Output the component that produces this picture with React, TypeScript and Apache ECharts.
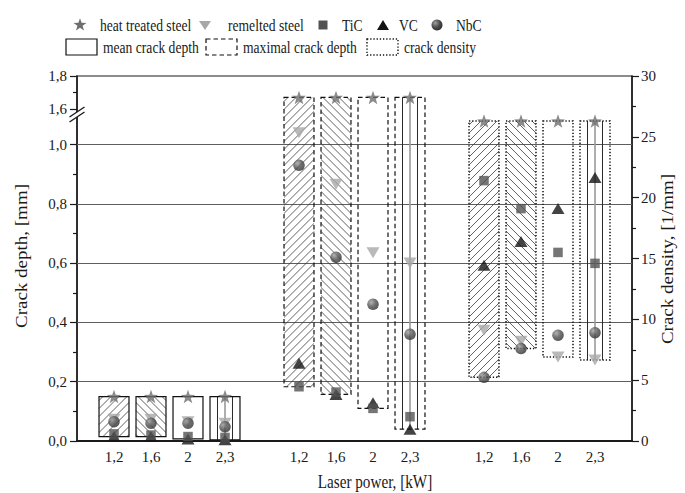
import React, { useEffect, useRef } from "react";
import * as echarts from "echarts";

// Laser power categories, repeated in each of the three panels
const POWER_LABELS = ["1,2", "1,6", "2", "2,3"];

// Mean crack depth [mm]
const MEAN_HEAT_TREATED = [0.15, 0.15, 0.15, 0.15];
const MEAN_REMELTED = [0.073, 0.073, 0.065, 0.06];
const MEAN_TIC = [0.024, 0.02, 0.015, 0.012];
const MEAN_VC = [0.015, 0.015, 0.007, 0.004];
const MEAN_NBC = [0.065, 0.06, 0.06, 0.048];

// Maximal crack depth [mm]
const MAX_HEAT_TREATED = [1.67, 1.67, 1.67, 1.67];
const MAX_REMELTED = [1.04, 0.866, 0.635, 0.6];
const MAX_TIC = [0.183, 0.165, 0.11, 0.082];
const MAX_VC = [0.262, 0.157, 0.129, 0.04];
const MAX_NBC = [0.93, 0.62, 0.461, 0.36];

// Crack density [1/mm]
const DENS_HEAT_TREATED = [26.3, 26.3, 26.3, 26.3];
const DENS_REMELTED = [9.1, 8.2, 6.9, 6.65];
const DENS_TIC = [21.4, 19.1, 15.5, 14.6];
const DENS_VC = [14.45, 16.4, 19.1, 21.65];
const DENS_NBC = [5.23, 7.6, 8.7, 8.9];

// Axis ticks
const DEPTH_TICKS = [0, 0.2, 0.4, 0.6, 0.8, 1.0, 1.6, 1.8];
const DEPTH_MINOR_TICKS = [0.1, 0.3, 0.5, 0.7, 0.9, 1.7];
const DEPTH_GRID = [0.2, 0.4, 0.6, 0.8, 1.0];
const DENSITY_MAX = 30;
const DENSITY_STEP = 5;

// Broken depth axis: 0..~1.1 linear, then 1.6..1.8 compressed
const BREAK_FROM = 1.6;
const T_BREAK = 1.12;
const UPPER_SCALE = 0.556;
const toAxis = (v: number) => (v >= BREAK_FROM ? T_BREAK + (v - BREAK_FROM) * UPPER_SCALE : v);
const fromAxis = (t: number) => (t >= T_BREAK - 1e-9 ? BREAK_FROM + (t - T_BREAK) / UPPER_SCALE : t);
const T_MAX = toAxis(1.8);

const FONT = '"Liberation Serif", "Times New Roman", serif';
const INK = "#1a1a1a";
const GROUP_SLOT = 5;
const BAR_WIDTH = 0.81;

const STAR_PATH =
  "path://M50 0 L61.76 33.82 L97.55 34.55 L69.02 56.18 L79.39 90.45 L50 70 L20.61 90.45 L30.98 56.18 L2.45 34.55 L38.24 33.82 Z";

const ballFill = () =>
  new echarts.graphic.RadialGradient(0.35, 0.32, 0.75, [
    { offset: 0, color: "#a0a0a0" },
    { offset: 0.5, color: "#505050" },
    { offset: 1, color: "#2a2a2a" },
  ]);

const MATERIALS = [
  { name: "heat treated steel", mean: MEAN_HEAT_TREATED, max: MAX_HEAT_TREATED, dens: DENS_HEAT_TREATED, symbol: STAR_PATH, size: [14, 13.5], color: "#6e6e6e", rotate: 0 },
  { name: "remelted steel", mean: MEAN_REMELTED, max: MAX_REMELTED, dens: DENS_REMELTED, symbol: "triangle", size: [13, 11], color: "#a8a8a8", rotate: 180 },
  { name: "TiC", mean: MEAN_TIC, max: MAX_TIC, dens: DENS_TIC, symbol: "rect", size: [9.5, 9.5], color: "#525252", rotate: 0 },
  { name: "VC", mean: MEAN_VC, max: MAX_VC, dens: DENS_VC, symbol: "triangle", size: [13, 11], color: "#141414", rotate: 0 },
  { name: "NbC", mean: MEAN_NBC, max: MAX_NBC, dens: DENS_NBC, symbol: "circle", size: [11.5, 11.5], color: "ball", rotate: 0 },
];
const DRAW_ORDER = [0, 1, 3, 2, 4];

const xPos = (group: number, i: number) => group * GROUP_SLOT + i;

// Hatched bar spanning the range of the materials at one laser power
const makeBarRenderer = (dash: number[] | null) => (params: any, api: any) => {
  const x = api.value(0);
  const lo = api.value(1);
  const hi = api.value(2);
  const pat = api.value(3);
  const top = api.coord([x, hi]);
  const bot = api.coord([x, lo]);
  const w = api.size([BAR_WIDTH, 0])[0];
  const x0 = top[0] - w / 2;
  const x1 = top[0] + w / 2;
  const y0 = top[1];
  const y1 = bot[1];
  const children: any[] = [];
  const hatch = { stroke: "#3a3a3a", lineWidth: 0.8 };
  const S = 8;
  if (pat === 0) {
    for (let c = x0 + y0 + S / 2; c < x1 + y1; c += S) {
      const xa = Math.max(x0, c - y1);
      const xb = Math.min(x1, c - y0);
      if (xb > xa) children.push({ type: "line", shape: { x1: xa, y1: c - xa, x2: xb, y2: c - xb }, style: hatch });
    }
  } else if (pat === 1) {
    for (let c = y0 - x1 + S / 2; c < y1 - x0; c += S) {
      const xa = Math.max(x0, y0 - c);
      const xb = Math.min(x1, y1 - c);
      if (xb > xa) children.push({ type: "line", shape: { x1: xa, y1: xa + c, x2: xb, y2: xb + c }, style: hatch });
    }
  } else if (pat === 3) {
    for (let k = 1; k <= 3; k++) {
      const xx = x0 + (w * k) / 4;
      const mid = k === 2;
      children.push({
        type: "line",
        shape: { x1: xx, y1: y0, x2: xx, y2: y1 },
        style: { stroke: mid ? "#9a9a9a" : "#2a2a2a", lineWidth: mid ? 1.6 : 1 },
      });
    }
  }
  children.push({
    type: "rect",
    shape: { x: x0, y: y0, width: w, height: y1 - y0 },
    style: { fill: "none", stroke: "#111", lineWidth: dash && dash[0] < 2 ? 1.5 : 1.2, lineDash: dash || undefined },
  });
  return { type: "group", children };
};

const barData = (group: number, key: "mean" | "max" | "dens", mapY: (v: number) => number) =>
  POWER_LABELS.map((_, i) => {
    const vals = MATERIALS.map((m) => m[key][i]);
    return [xPos(group, i), mapY(Math.min(...vals)), mapY(Math.max(...vals)), i];
  });

const starPoints = (cx: number, cy: number, r: number) => {
  const pts: number[][] = [];
  for (let k = 0; k < 10; k++) {
    const a = -Math.PI / 2 + (k * Math.PI) / 5;
    const rr = k % 2 === 0 ? r : r * 0.4;
    pts.push([cx + rr * Math.cos(a), cy + rr * Math.sin(a)]);
  }
  return pts;
};

const legendText = (text: string, x: number, y: number) => ({
  type: "text",
  x,
  y,
  scaleX: 0.8,
  silent: true,
  style: { text, fontSize: 17, fontFamily: FONT, fill: INK, align: "left", verticalAlign: "middle", textAlign: "left", textVerticalAlign: "middle" },
});

function buildOption(): any {
  const series: any[] = [];

  series.push({
    type: "custom",
    name: "mean crack depth",
    xAxisIndex: 0,
    yAxisIndex: 0,
    z: 2,
    silent: true,
    encode: { x: 0, y: [1, 2] },
    renderItem: makeBarRenderer(null),
    data: barData(0, "mean", toAxis),
  });
  series.push({
    type: "custom",
    name: "maximal crack depth",
    xAxisIndex: 0,
    yAxisIndex: 0,
    z: 2,
    silent: true,
    encode: { x: 0, y: [1, 2] },
    renderItem: makeBarRenderer([4.5, 3]),
    data: barData(1, "max", toAxis),
  });
  series.push({
    type: "custom",
    name: "crack density",
    xAxisIndex: 0,
    yAxisIndex: 1,
    z: 2,
    silent: true,
    encode: { x: 0, y: [1, 2] },
    renderItem: makeBarRenderer([1.3, 1.9]),
    data: barData(2, "dens", (v) => v),
  });

  DRAW_ORDER.forEach((mi, n) => {
    const m = MATERIALS[mi];
    const itemStyle = { color: m.color === "ball" ? ballFill() : m.color };
    const common = {
      type: "scatter",
      name: m.name,
      symbol: m.symbol,
      symbolSize: m.size,
      symbolRotate: m.rotate,
      itemStyle,
      z: 3,
      silent: true,
    };
    const depth: any = {
      ...common,
      yAxisIndex: 0,
      data: [
        ...m.mean.map((v, i) => [xPos(0, i), toAxis(v)]),
        ...m.max.map((v, i) => [xPos(1, i), toAxis(v)]),
      ],
    };
    if (n === 0) {
      depth.markLine = {
        silent: true,
        z: 1,
        symbol: "none",
        label: { show: false },
        lineStyle: { color: "#5e5e5e", width: 1, type: "solid" },
        emphasis: { disabled: true },
        data: DEPTH_GRID.map((v) => ({ yAxis: toAxis(v) })),
      };
    }
    series.push(depth);
    series.push({
      ...common,
      yAxisIndex: 1,
      data: m.dens.map((v, i) => [xPos(2, i), v]),
    });
  });

  const xTicks: number[] = [];
  for (let g = 0; g < 3; g++) POWER_LABELS.forEach((_, i) => xTicks.push(xPos(g, i)));

  const labelStyle = { fontSize: 15, fontFamily: FONT, color: INK };

  const graphic: any[] = [
    // legend, first row: materials
    { type: "polygon", shape: { points: starPoints(80, 25, 6.8) }, style: { fill: "#6e6e6e" } },
    legendText("heat treated steel", 100, 25),
    { type: "polygon", shape: { points: [[199, 21], [211, 21], [205, 30]] }, style: { fill: "#a8a8a8" } },
    legendText("remelted steel", 228, 25),
    { type: "rect", shape: { x: 318.5, y: 20.5, width: 9, height: 9 }, style: { fill: "#525252" } },
    legendText("TiC", 342, 25),
    { type: "polygon", shape: { points: [[377, 30], [389, 30], [383, 20]] }, style: { fill: "#141414" } },
    legendText("VC", 399, 25),
    { type: "circle", shape: { cx: 437, cy: 25, r: 5.5 }, style: { fill: ballFill() } },
    legendText("NbC", 456, 25),
    // legend, second row: bar meanings
    { type: "rect", shape: { x: 66, y: 39, width: 31, height: 16 }, style: { fill: "none", stroke: "#111", lineWidth: 1.2 } },
    legendText("mean crack depth", 103, 47),
    { type: "rect", shape: { x: 206, y: 39, width: 31, height: 16 }, style: { fill: "none", stroke: "#111", lineWidth: 1.2, lineDash: [4.5, 3] } },
    legendText("maximal crack depth", 243, 47),
    { type: "rect", shape: { x: 367, y: 39, width: 31, height: 16 }, style: { fill: "none", stroke: "#111", lineWidth: 1.4, lineDash: [1.3, 1.9] } },
    legendText("crack density", 404, 47),
    // axis titles
    {
      type: "text",
      x: 375,
      y: 482,
      scaleX: 0.8,
      silent: true,
      style: { text: "Laser power, [kW]", fontSize: 19, fontFamily: FONT, fill: INK, align: "center", verticalAlign: "middle", textAlign: "center", textVerticalAlign: "middle" },
    },
    {
      type: "text",
      x: 22,
      y: 256,
      rotation: Math.PI / 2,
      scaleY: 0.85,
      silent: true,
      style: { text: "Crack depth, [mm]", fontSize: 19, fontFamily: FONT, fill: INK, align: "center", verticalAlign: "middle", textAlign: "center", textVerticalAlign: "middle" },
    },
    {
      type: "text",
      x: 668,
      y: 259,
      rotation: Math.PI / 2,
      scaleY: 0.85,
      silent: true,
      style: { text: "Crack density, [1/mm]", fontSize: 19, fontFamily: FONT, fill: INK, align: "center", verticalAlign: "middle", textAlign: "center", textVerticalAlign: "middle" },
    },
    // axis break marks on the depth axis
    {
      type: "polygon",
      z: 100,
      shape: { points: [[74.5, 113.7], [79.5, 110.3], [79.5, 115.3], [74.5, 118.7]] },
      style: { fill: "#ffffff" },
    },
    { type: "line", z: 101, shape: { x1: 69.5, y1: 117, x2: 84.5, y2: 107 }, style: { stroke: INK, lineWidth: 1.3 } },
    { type: "line", z: 101, shape: { x1: 69.5, y1: 122, x2: 84.5, y2: 112 }, style: { stroke: INK, lineWidth: 1.3 } },
  ];

  return {
    animation: false,
    backgroundColor: "#ffffff",
    grid: { left: 77, right: 53, top: 76, bottom: 52, show: true, borderColor: INK, borderWidth: 1.2, backgroundColor: "transparent" },
    xAxis: {
      type: "value",
      min: -1,
      max: 14,
      axisLine: { show: true, onZero: false, lineStyle: { color: INK, width: 2 } },
      axisTick: { show: false },
      splitLine: { show: false },
      axisLabel: {
        ...labelStyle,
        margin: 8,
        customValues: xTicks,
        formatter: (v: number) => POWER_LABELS[((Math.round(v) % GROUP_SLOT) + GROUP_SLOT) % GROUP_SLOT],
      },
    },
    yAxis: [
      {
        type: "value",
        position: "left",
        min: 0,
        max: T_MAX,
        axisLine: { show: true, onZero: false, lineStyle: { color: INK, width: 1.5 } },
        axisTick: { show: true, length: 7, customValues: DEPTH_TICKS.map(toAxis), lineStyle: { color: INK, width: 1.2 } },
        splitLine: { show: false },
        axisLabel: {
          ...labelStyle,
          margin: 10,
          customValues: DEPTH_TICKS.map(toAxis),
          formatter: (v: number) => fromAxis(v).toFixed(1).replace(".", ","),
        },
      },
      {
        type: "value",
        position: "right",
        min: 0,
        max: DENSITY_MAX,
        interval: DENSITY_STEP,
        axisLine: { show: true, onZero: false, lineStyle: { color: INK, width: 1.5 } },
        axisTick: { show: true, length: 7, lineStyle: { color: INK, width: 1.2 } },
        minorTick: { show: true, splitNumber: 2, length: 4, lineStyle: { color: INK, width: 1.2 } },
        splitLine: { show: false },
        minorSplitLine: { show: false },
        axisLabel: { ...labelStyle, margin: 9 },
      },
      {
        type: "value",
        position: "left",
        min: 0,
        max: T_MAX,
        axisLine: { show: false, onZero: false },
        axisTick: { show: true, length: 4, customValues: DEPTH_MINOR_TICKS.map(toAxis), lineStyle: { color: INK, width: 1.2 } },
        splitLine: { show: false },
        axisLabel: { show: false },
      },
    ],
    series,
    graphic: { elements: graphic },
  };
}

export default function App() {
  const ref = useRef<HTMLDivElement>(null);
  useEffect(() => {
    const chart = echarts.init(ref.current as HTMLDivElement, null, { renderer: "svg" });
    chart.setOption(buildOption());
    return () => chart.dispose();
  }, []);
  return (
    <div
      ref={ref}
      style={{ position: "fixed", left: 0, top: 0, width: 685, height: 493, background: "#ffffff" }}
    />
  );
}
